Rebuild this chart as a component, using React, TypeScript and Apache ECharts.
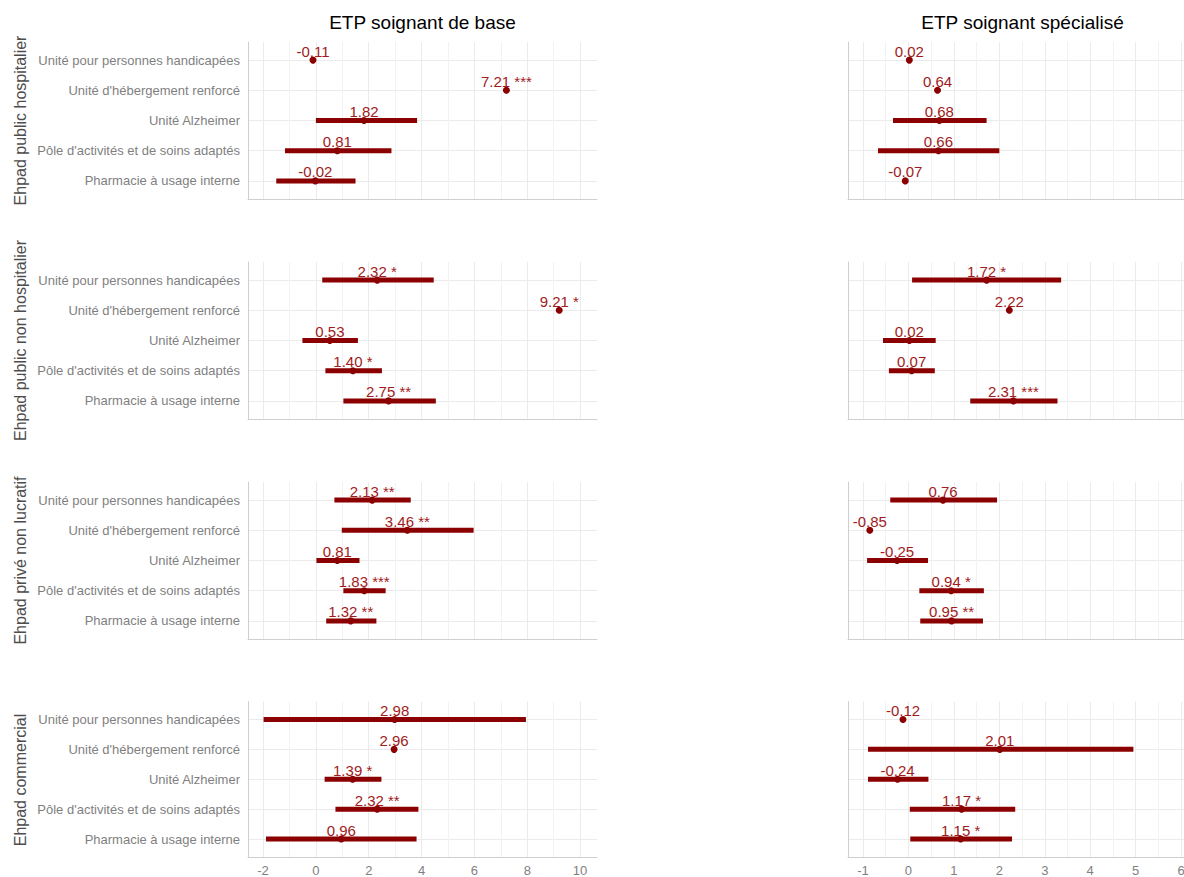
import React, { useEffect, useRef } from "react";
import * as echarts from "echarts";

const categories = [
  "Unité pour personnes handicapées",
  "Unité d'hébergement renforcé",
  "Unité Alzheimer",
  "Pôle d'activités et de soins adaptés",
  "Pharmacie à usage interne",
];
const rowLabels = [
  "Ehpad public hospitalier",
  "Ehpad public non hospitalier",
  "Ehpad privé non lucratif",
  "Ehpad commercial",
];
const colLabels = ["ETP soignant de base", "ETP soignant spécialisé"];

const leftMajorTicks = [-2, 0, 2, 4, 6, 8, 10];
const leftMinorTicks = [-1, 1, 3, 5, 7, 9];
const rightMajorTicks = [-1, 0, 1, 2, 3, 4, 5, 6];
const rightMinorTicks = [-0.5, 0.5, 1.5, 2.5, 3.5, 4.5, 5.5];
const leftRange = [-2.57, 10.64];
const rightRange = [-1.33, 6.35];
const catTicks = [1, 2, 3, 4, 5];

// Ehpad public hospitalier
const hospBaseEst = [-0.11, 7.21, 1.82, 0.81, -0.02];
const hospBaseLo = [null, null, 0.0, -1.17, -1.5];
const hospBaseHi = [null, null, 3.83, 2.86, 1.5];
const hospBaseSig = ["", "***", "", "", ""];
const hospSpecEst = [0.02, 0.64, 0.68, 0.66, -0.07];
const hospSpecLo = [null, null, -0.34, -0.67, null];
const hospSpecHi = [null, null, 1.72, 2.0, null];
const hospSpecSig = ["", "", "", "", ""];
// Ehpad public non hospitalier
const nonHospBaseEst = [2.32, 9.21, 0.53, 1.4, 2.75];
const nonHospBaseLo = [0.24, null, -0.51, 0.36, 1.04];
const nonHospBaseHi = [4.46, null, 1.59, 2.5, 4.54];
const nonHospBaseSig = ["*", "*", "", "*", "**"];
const nonHospSpecEst = [1.72, 2.22, 0.02, 0.07, 2.31];
const nonHospSpecLo = [0.08, null, -0.56, -0.43, 1.36];
const nonHospSpecHi = [3.36, null, 0.6, 0.58, 3.28];
const nonHospSpecSig = ["*", "", "", "", "***"];
// Ehpad privé non lucratif
const priveBaseEst = [2.13, 3.46, 0.81, 1.83, 1.32];
const priveBaseLo = [0.7, 0.98, 0.02, 1.04, 0.39];
const priveBaseHi = [3.59, 5.97, 1.65, 2.64, 2.29];
const priveBaseSig = ["**", "**", "", "***", "**"];
const priveSpecEst = [0.76, -0.85, -0.25, 0.94, 0.95];
const priveSpecLo = [-0.4, null, -0.91, 0.24, 0.26];
const priveSpecHi = [1.95, null, 0.43, 1.66, 1.64];
const priveSpecSig = ["", "", "", "*", "**"];
// Ehpad commercial
const commBaseEst = [2.98, 2.96, 1.39, 2.32, 0.96];
const commBaseLo = [-1.98, null, 0.33, 0.74, -1.89];
const commBaseHi = [7.95, null, 2.48, 3.88, 3.81];
const commBaseSig = ["", "", "*", "**", ""];
const commSpecEst = [-0.12, 2.01, -0.24, 1.17, 1.15];
const commSpecLo = [null, -0.89, -0.89, 0.03, 0.04];
const commSpecHi = [null, 4.95, 0.44, 2.35, 2.28];
const commSpecSig = ["", "", "", "*", "*"];

const panelData = [
  [hospBaseEst, hospBaseLo, hospBaseHi, hospBaseSig],
  [hospSpecEst, hospSpecLo, hospSpecHi, hospSpecSig],
  [nonHospBaseEst, nonHospBaseLo, nonHospBaseHi, nonHospBaseSig],
  [nonHospSpecEst, nonHospSpecLo, nonHospSpecHi, nonHospSpecSig],
  [priveBaseEst, priveBaseLo, priveBaseHi, priveBaseSig],
  [priveSpecEst, priveSpecLo, priveSpecHi, priveSpecSig],
  [commBaseEst, commBaseLo, commBaseHi, commBaseSig],
  [commSpecEst, commSpecLo, commSpecHi, commSpecSig],
];

const FONT = "'Liberation Sans', Arial, sans-serif";
const CHART_WIDTH = 1210;
const PANEL_LEFT = [248, 848];
const PANEL_WIDTH = 349;
const ROW_TOP = [42, 262, 482, 701.5];
const PANEL_HEIGHT = 157;
const RED = "#8b0000";
const LABEL_RED = "#a01c1c";
const GRID_MAJOR = "#ebebeb";
const GRID_MINOR = "#f2f2f2";
const AXIS_LINE = "#cfcfcf";
const AXIS_TEXT = "#7f7f7f";

function buildOption() {
  const grid: any[] = [];
  const xAxis: any[] = [];
  const yAxis: any[] = [];
  const series: any[] = [];

  panelData.forEach(([est, lo, hi, sig], p) => {
    const row = Math.floor(p / 2);
    const col = p % 2;
    const range = col === 0 ? leftRange : rightRange;
    const majors = col === 0 ? leftMajorTicks : rightMajorTicks;
    const minors = col === 0 ? leftMinorTicks : rightMinorTicks;

    grid.push({
      left: PANEL_LEFT[col],
      top: ROW_TOP[row],
      width: PANEL_WIDTH,
      height: PANEL_HEIGHT,
      containLabel: false,
    });

    xAxis.push({
      gridIndex: p,
      type: "value",
      position: "bottom",
      min: range[0],
      max: range[1],
      axisLine: { show: true, onZero: false, lineStyle: { color: AXIS_LINE, width: 1 } },
      axisTick: { show: false, customValues: majors },
      axisLabel: {
        show: row === 3,
        customValues: majors,
        color: AXIS_TEXT,
        fontSize: 13,
        fontFamily: FONT,
        margin: 7,
      },
      splitLine: { show: true, lineStyle: { color: GRID_MAJOR, width: 1 } },
    });
    xAxis.push({
      gridIndex: p,
      type: "value",
      position: "top",
      min: range[0],
      max: range[1],
      axisLine: { show: false },
      axisTick: { show: false, customValues: minors },
      axisLabel: { show: false, customValues: minors },
      splitLine: { show: true, lineStyle: { color: GRID_MINOR, width: 1 } },
    });

    yAxis.push({
      gridIndex: p,
      type: "value",
      inverse: true,
      min: 0.4,
      max: 5.6,
      axisLine: { show: true, onZero: false, lineStyle: { color: AXIS_LINE, width: 1 } },
      axisTick: { show: false, customValues: catTicks },
      axisLabel: {
        show: col === 0,
        customValues: catTicks,
        formatter: (v: number) => categories[Math.round(v) - 1] || "",
        color: AXIS_TEXT,
        fontSize: 13,
        fontFamily: FONT,
        margin: 8,
      },
      splitLine: { show: true, lineStyle: { color: GRID_MAJOR, width: 1 } },
    });

    const ciData: any[] = [];
    est.forEach((_v: any, i: number) => {
      if (lo[i] != null && hi[i] != null) ciData.push([lo[i], hi[i], i + 1]);
    });

    series.push({
      type: "custom",
      xAxisIndex: p * 2,
      yAxisIndex: p,
      data: ciData,
      encode: { x: [0, 1], y: 2 },
      z: 3,
      renderItem: (_params: any, api: any) => {
        const a = api.coord([api.value(0), api.value(2)]);
        const b = api.coord([api.value(1), api.value(2)]);
        return {
          type: "line",
          shape: { x1: a[0], y1: a[1], x2: b[0], y2: b[1] },
          style: { stroke: RED, lineWidth: 5 },
        };
      },
    });

    series.push({
      type: "scatter",
      xAxisIndex: p * 2,
      yAxisIndex: p,
      symbol: "circle",
      symbolSize: 7,
      z: 4,
      itemStyle: { color: RED, opacity: 1 },
      data: est.map((v: number, i: number) => ({
        value: [v, i + 1],
        name: v.toFixed(2) + (sig[i] ? " " + sig[i] : ""),
      })),
      label: {
        show: true,
        position: "inside",
        offset: [0, -9],
        formatter: "{b}",
        color: LABEL_RED,
        fontSize: 15,
        fontFamily: FONT,
        textBorderWidth: 0,
      },
    });
  });

  const graphic: any[] = [];
  colLabels.forEach((t, c) => {
    graphic.push({
      type: "text",
      x: PANEL_LEFT[c] + PANEL_WIDTH / 2,
      y: 22,
      style: {
        text: t,
        fontSize: 19,
        fontFamily: FONT,
        fill: "#000000",
        align: "center",
        verticalAlign: "middle",
        textAlign: "center",
        textVerticalAlign: "middle",
      },
    });
  });
  rowLabels.forEach((t, r) => {
    graphic.push({
      type: "text",
      x: 20,
      y: ROW_TOP[r] + PANEL_HEIGHT / 2,
      rotation: Math.PI / 2,
      style: {
        text: t,
        fontSize: 16,
        fontFamily: FONT,
        fill: "#4d4d4d",
        align: "center",
        verticalAlign: "middle",
        textAlign: "center",
        textVerticalAlign: "middle",
      },
    });
  });

  return {
    animation: false,
    backgroundColor: "#ffffff",
    textStyle: { fontFamily: FONT },
    grid,
    xAxis,
    yAxis,
    series,
    graphic,
  };
}

export default function App() {
  const ref = useRef<HTMLDivElement>(null);
  useEffect(() => {
    if (!ref.current) return;
    const chart = echarts.init(ref.current, undefined, { renderer: "svg" });
    chart.setOption(buildOption() as any);
    return () => chart.dispose();
  }, []);
  return (
    <div
      style={{
        position: "absolute",
        left: 0,
        top: 0,
        width: 1184,
        height: 877,
        overflow: "hidden",
        background: "#fff",
      }}
    >
      <div ref={ref} style={{ width: CHART_WIDTH, height: 877 }} />
    </div>
  );
}
